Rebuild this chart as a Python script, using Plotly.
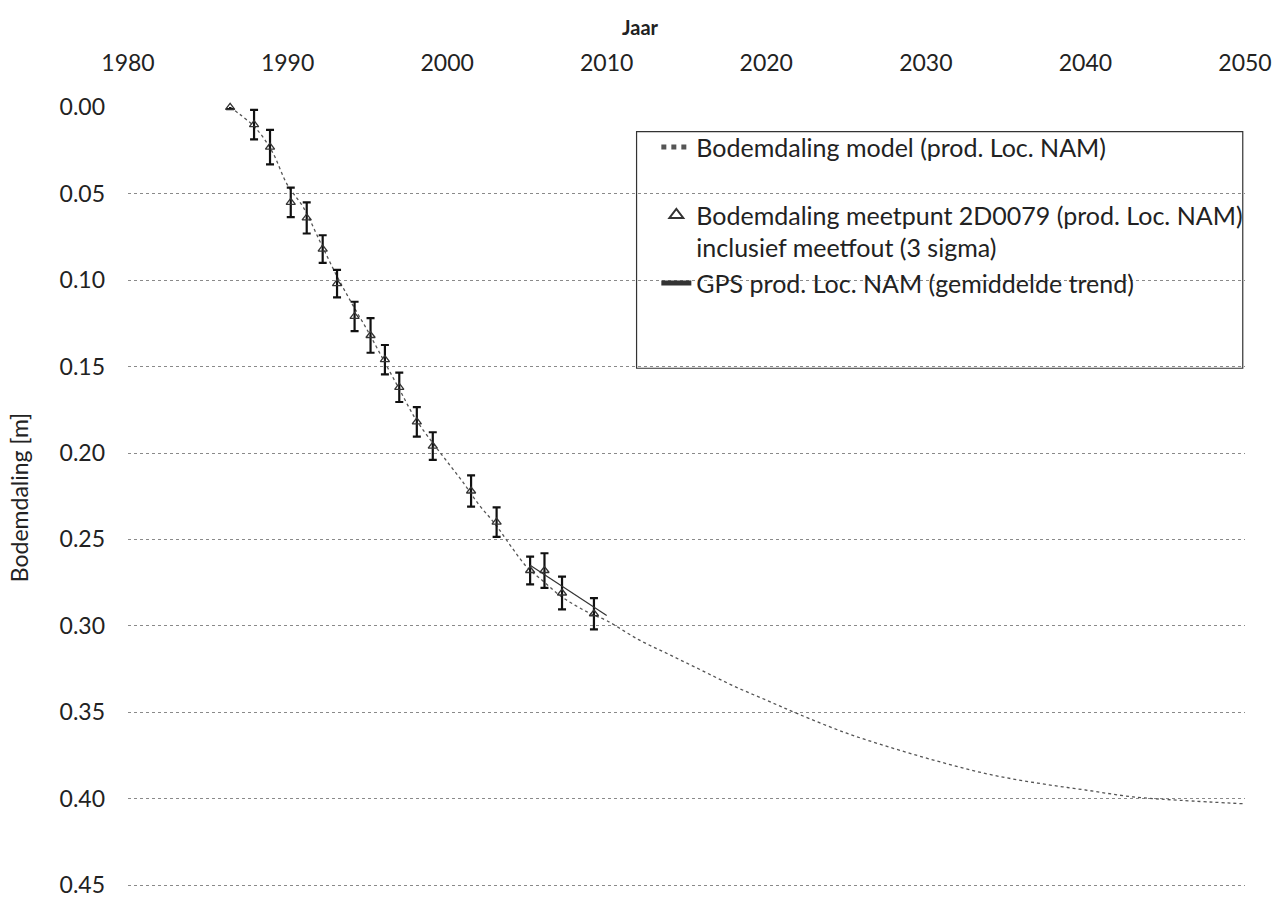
import plotly.graph_objects as go

# Modelled subsidence curve (prod. Loc. NAM)
model_year = [1986.4, 1987, 1988, 1989, 1990, 1991, 1992, 1993, 1994, 1995,
              1996, 1997, 1998, 1999, 2000, 2001, 2002, 2003, 2004, 2005,
              2006, 2007, 2008, 2009, 2010, 2012, 2014, 2016, 2018, 2020,
              2022, 2025, 2028, 2031, 2034, 2037, 2040, 2043, 2046, 2050]
model_val = [0.000, 0.004, 0.012, 0.025, 0.045, 0.058, 0.077, 0.096, 0.113, 0.129,
             0.146, 0.163, 0.180, 0.193, 0.205, 0.217, 0.230, 0.241, 0.254, 0.266,
             0.274, 0.282, 0.288, 0.293, 0.297, 0.308, 0.317, 0.326, 0.335, 0.343,
             0.351, 0.362, 0.371, 0.379, 0.386, 0.391, 0.395, 0.399, 0.401, 0.403]

# Levelling benchmark 2D0079 with 3-sigma measurement error
meet_year = [1986.4, 1987.9, 1988.9, 1990.2, 1991.2, 1992.2, 1993.1, 1994.2, 1995.2,
             1996.1, 1997.0, 1998.1, 1999.1, 2001.5, 2003.1, 2005.2, 2006.1, 2007.2,
             2009.2]
meet_val = [0.000, 0.010, 0.023, 0.055, 0.064, 0.082, 0.102, 0.121, 0.132,
            0.146, 0.162, 0.182, 0.196, 0.222, 0.240, 0.268, 0.268, 0.281,
            0.293]
meet_err = [0.001, 0.0085, 0.010, 0.0085, 0.009, 0.008, 0.008, 0.0085, 0.010,
            0.0085, 0.0085, 0.0085, 0.008, 0.009, 0.0085, 0.008, 0.010, 0.0095,
            0.009]

# GPS average trend
gps_year = [2005.2, 2010.0]
gps_val = [0.265, 0.294]

x_ticks = [1980, 1990, 2000, 2010, 2020, 2030, 2040, 2050]
y_ticks = [0.00, 0.05, 0.10, 0.15, 0.20, 0.25, 0.30, 0.35, 0.40, 0.45]

FONT = "Lato"
INK = "#222222"

fig = go.Figure()

fig.add_trace(go.Scatter(
    x=model_year, y=model_val, mode="lines",
    name="Bodemdaling model (prod. Loc. NAM)<br> ",
    line=dict(color="#555555", width=1.3, dash="dot", shape="spline"),
    legendgroup="a", cliponaxis=False,
))

fig.add_trace(go.Scatter(
    x=meet_year, y=meet_val, mode="markers",
    name="Bodemdaling meetpunt 2D0079 (prod. Loc. NAM)<br>inclusief meetfout (3 sigma)",
    marker=dict(symbol="triangle-up-open", size=8, color="#333333",
                line=dict(width=1.3, color="#333333")),
    error_y=dict(type="data", array=meet_err, visible=True,
                 color="#111111", thickness=2.2, width=4),
    legendgroup="b", cliponaxis=False,
))

fig.add_trace(go.Scatter(
    x=gps_year, y=gps_val, mode="lines",
    name="GPS prod. Loc. NAM (gemiddelde trend)",
    line=dict(color="#333333", width=1.2),
    legendgroup="c",
))

# Frame around the legend
fig.add_shape(type="rect", xref="paper", yref="paper",
              x0=0.4553, x1=0.998, y0=0.6655, y1=0.9684,
              line=dict(color="#333333", width=1.2), fillcolor="rgba(0,0,0,0)")

fig.update_layout(
    width=1280, height=906,
    paper_bgcolor="white", plot_bgcolor="white",
    margin=dict(l=128, r=34, t=107, b=8),
    font=dict(family=FONT, size=22, color=INK),
    showlegend=True,
    title=dict(text="<b>Jaar</b>", x=0.5, xref="container", xanchor="center",
               y=0.969, yref="container", yanchor="middle",
               font=dict(family=FONT, size=20, color=INK)),
    legend=dict(
        x=0.473, y=0.978, xanchor="left", yanchor="top",
        bgcolor="rgba(0,0,0,0)", borderwidth=0, valign="top",
        font=dict(family=FONT, size=25, color=INK),
        tracegroupgap=0, itemsizing="constant",
    ),
    xaxis=dict(
        side="top", range=[1980, 2050], tickvals=x_ticks,
        showgrid=False, zeroline=False, showline=False, ticks="",
        ticklabelstandoff=30,
        tickfont=dict(family=FONT, size=23, color=INK),
    ),
    yaxis=dict(
        range=[0.4517, -0.0002], tickvals=y_ticks, tickformat=".2f",
        showgrid=True, gridcolor="#8a8a8a", gridwidth=1, griddash="dot",
        zeroline=False, showline=False, ticks="",
        ticklabelstandoff=22, ticklabeloverflow="allow",
        tickfont=dict(family=FONT, size=23, color=INK),
        title=dict(text="Bodemdaling [m]", font=dict(family=FONT, size=23, color=INK),
                   standoff=24),
    ),
)

fig.write_html("out.html")
